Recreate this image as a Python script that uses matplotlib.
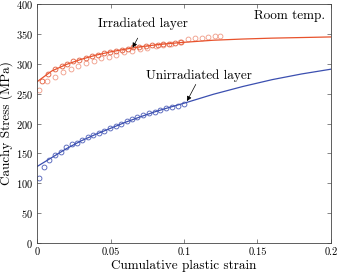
import matplotlib
matplotlib.use('Agg')
import matplotlib.pyplot as plt

plt.rcParams['font.family'] = 'cmr10'
plt.rcParams['mathtext.fontset'] = 'cm'
plt.rcParams['axes.unicode_minus'] = False
plt.rcParams['axes.formatter.use_mathtext'] = True

# irradiated layer: fitted curve and two sets of measurements
irr_fit_x = [0, 0.005, 0.01, 0.02, 0.03, 0.04, 0.05, 0.06, 0.07, 0.08, 0.09, 0.1,
             0.12, 0.14, 0.16, 0.18, 0.2]
irr_fit_y = [270, 279, 288, 299, 307.5, 314.5, 320, 324.5, 328.5, 331.5, 334, 336,
             339.5, 341.5, 343, 344, 345]
irr_a_x = [0.0036, 0.0077, 0.012, 0.0168, 0.0206, 0.0247, 0.0288, 0.0333, 0.0372,
           0.0413, 0.0456, 0.0497, 0.0537, 0.0576, 0.0617, 0.0655, 0.0697, 0.074,
           0.078, 0.082, 0.086, 0.090, 0.094, 0.098]
irr_a_y = [272, 283, 290.5, 296.7, 300, 304, 307, 310.5, 313, 315.5, 317.7, 320,
           321.7, 323.3, 325, 327.7, 328.5, 330, 331, 332, 333, 334, 335, 336]
irr_b_x = [0.0016, 0.007, 0.012, 0.0175, 0.0229, 0.028, 0.0333, 0.0388, 0.0437,
           0.049, 0.054, 0.0594, 0.0646, 0.070, 0.075, 0.081, 0.086, 0.091, 0.097,
           0.103, 0.1075, 0.112, 0.1165, 0.121, 0.1245]
irr_b_y = [255.5, 271, 277.7, 285.5, 290.5, 296, 301, 304, 310, 312, 315.5, 319,
           322, 324, 326, 329, 331, 333, 336, 341.7, 343, 344, 345.5, 346, 347]

# unirradiated layer
uni_fit_x = [0, 0.01, 0.02, 0.03, 0.04, 0.05, 0.06, 0.07, 0.08, 0.09, 0.1,
             0.12, 0.14, 0.16, 0.18, 0.2]
uni_fit_y = [128, 143, 158, 171, 182, 192, 202, 211, 219.5, 227, 234,
             249, 262, 273.5, 283, 291]
uni_x = [0.001, 0.0048, 0.0084, 0.0122, 0.016, 0.0197, 0.0236, 0.027, 0.0308,
         0.0344, 0.0383, 0.042, 0.0456, 0.0497, 0.0535, 0.0571, 0.061, 0.0648,
         0.068, 0.072, 0.076, 0.080, 0.084, 0.088, 0.092, 0.096, 0.100]
uni_y = [108, 127.7, 139, 147, 153, 161, 165, 168, 172, 176.7, 180.5, 184.3,
         187.7, 191.7, 195.5, 200, 204, 208, 211, 214, 217, 220, 223, 225.5, 228,
         230, 232]

fig = plt.figure(figsize=(3.37, 2.73), dpi=100)
ax = fig.add_axes([0.11, 0.11, 0.872, 0.875])

red = '#e8522c'
blue = '#3b4fb0'

ax.plot(irr_b_x, irr_b_y, 'o', mfc='none', mec='#f09a85', ms=3.5, mew=0.6)
ax.plot(irr_a_x, irr_a_y, 'o', mfc='none', mec='#e25a38', ms=3.5, mew=0.6)
ax.plot(irr_fit_x, irr_fit_y, '-', color=red, lw=0.9)

ax.plot(uni_x, uni_y, 'o', mfc='none', mec='#4b5cb8', ms=3.5, mew=0.6)
ax.plot(uni_fit_x, uni_fit_y, '-', color=blue, lw=0.9)

arrow = dict(arrowstyle='-|>', color='k', lw=0.5, mutation_scale=7,
             shrinkA=0, shrinkB=0)
ax.text(0.0718, 367, 'Irradiated layer', ha='center', va='center', fontsize=9.5)
ax.annotate('', xy=(0.065, 327), xytext=(0.0685, 343), arrowprops=arrow)
ax.text(0.11, 280, 'Unirradiated layer', ha='center', va='center', fontsize=9.5)
ax.annotate('', xy=(0.102, 237.5), xytext=(0.108, 265.5), arrowprops=arrow)
ax.text(0.196, 380, 'Room temp.', ha='right', va='center', fontsize=9.5)

ax.set_xlim(0, 0.2)
ax.set_ylim(0, 400)
ax.set_xticks([0, 0.05, 0.1, 0.15, 0.2])
ax.set_xticklabels(['0', '0.05', '0.1', '0.15', '0.2'])
ax.set_yticks(range(0, 401, 50))
ax.set_xlabel('Cumulative plastic strain', fontsize=9.5, labelpad=2)
ax.set_ylabel('Cauchy Stress (MPa)', fontsize=9.5, labelpad=2)
ax.tick_params(direction='in', top=True, right=True, labelsize=7.5,
               length=3, width=0.5, color='#555555', pad=3)
for s in ax.spines.values():
    s.set_linewidth(0.6)
    s.set_color('#444444')

fig.savefig('out.png', dpi=100)
